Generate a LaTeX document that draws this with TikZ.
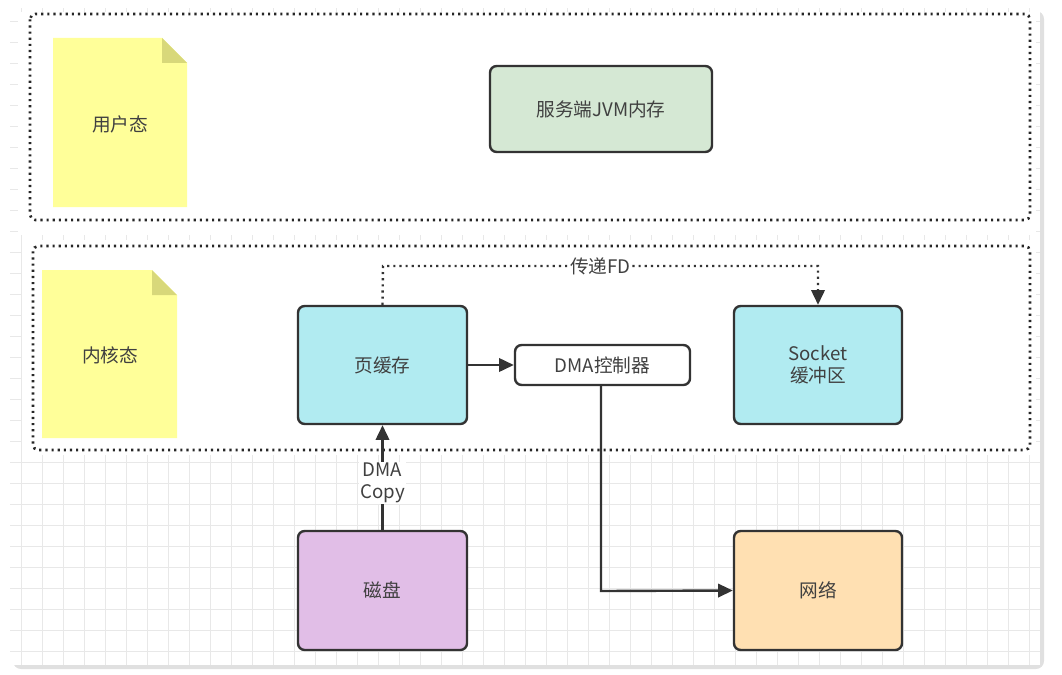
\documentclass[tikz,border=0pt]{standalone}
\usepackage{fontspec}
\setmainfont{Noto Sans CJK SC}
\usetikzlibrary{shapes.misc,arrows.meta}
\definecolor{cgreen}{HTML}{D5E8D4}
\definecolor{ccyan}{HTML}{B1EBF1}
\definecolor{cpurp}{HTML}{E1BEE7}
\definecolor{corng}{HTML}{FFE0B2}
\definecolor{cnote}{HTML}{FFFF99}
\definecolor{cfold}{HTML}{D8D87A}
\begin{document}
\begin{tikzpicture}[x=0.75pt,y=-0.75pt,
  box/.style={draw=black!80,line width=1.8pt,rounded corners=5pt,text=black!75,font=\fontsize{14}{16}\selectfont,align=center,inner sep=0pt},
  zone/.style={draw=black!85,line width=2pt,dash pattern=on 1.6pt off 3pt,rounded corners=4pt},
  note/.style={fill=cnote,draw=none},
  conn/.style={draw=black!80,line width=1.8pt,-{Triangle[length=11pt,width=10pt]}},
  lbl/.style={text=black!75,font=\fontsize{14}{16}\selectfont,align=center}]
\useasboundingbox (0,0) rectangle (1062,674);
\fill[black!12,rounded corners=6pt] (13,11) rectangle (1044,669);
\fill[white] (10,8) rectangle (1040,665);
\begin{scope}
\clip (10,8) rectangle (1040,665);
\foreach \x in {21,42,...,1040} \draw[black!9] (\x,8)--(\x,665);
\foreach \y in {21,42,...,665} \draw[black!9] (10,\y)--(1040,\y);
\end{scope}
\fill[white] (18,12) rectangle (1036,235);
\fill[white] (22,240) rectangle (1036,455);
\draw[zone] (30,14) rectangle (1030,220);
\draw[zone] (33,246) rectangle (1030,450);
\fill[note] (53,38) -- (162,38) -- (187,63) -- (187,207) -- (53,207) -- cycle;
\fill[cfold] (162,38) -- (187,63) -- (162,63) -- cycle;
\node[lbl] (u) at (120,124) {用户态};
\fill[note] (42,270) -- (152,270) -- (177,295) -- (177,438) -- (42,438) -- cycle;
\fill[cfold] (152,270) -- (177,295) -- (152,295) -- cycle;
\node[lbl] (k) at (110,355) {内核态};
\node[box,fill=cgreen,minimum width=166.5pt,minimum height=64.5pt] (jvm) at (601,109) {服务端JVM内存};
\node[box,fill=ccyan,minimum width=126.75pt,minimum height=88.5pt] (pc) at (382.5,365) {页缓存};
\node[box,fill=white,minimum width=131.25pt,minimum height=30pt] (dma) at (602.5,365) {DMA控制器};
\node[box,fill=ccyan,minimum width=126pt,minimum height=88.5pt] (sock) at (818,365) {Socket\\缓冲区};
\node[box,fill=cpurp,minimum width=126.75pt,minimum height=89.25pt] (disk) at (382.5,590.5) {磁盘};
\node[box,fill=corng,minimum width=126pt,minimum height=89.25pt] (net) at (818,590.5) {网络};
\draw[conn,dash pattern=on 1.6pt off 3pt] (pc.north) -- (383,266) -- node[lbl,fill=white,inner sep=1pt]{传递FD} (818,266) -- (sock.north);
\draw[conn] (disk.north) -- node[lbl,fill=white,inner sep=1pt,pos=0.5,yshift=-4pt]{DMA\\Copy} (pc.south);
\draw[conn] (pc.east) -- (dma.west);
\draw[conn] (dma.south -| 601,0) -- (601,591) -- (net.west);
\end{tikzpicture}
\end{document}
